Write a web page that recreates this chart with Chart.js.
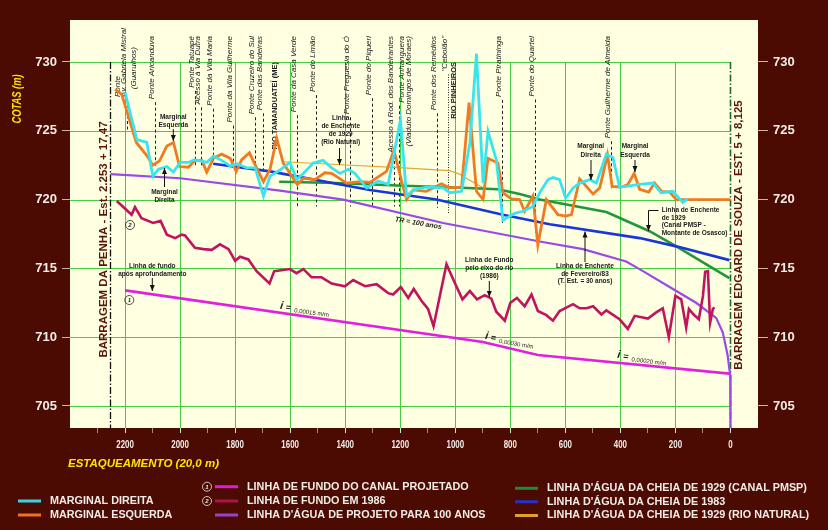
<!DOCTYPE html>
<html lang="pt-BR">
<head>
<meta charset="utf-8">
<title>Perfil do Rio Tietê</title>
<script src="https://cdn.jsdelivr.net/npm/chart.js@4.4.1/dist/chart.umd.min.js"></script>
<style>
  body { margin: 0; background: #4b0b02; }
  canvas { display: block; }
</style>
</head>
<body>
<canvas id="perfil" width="828" height="530"></canvas>
<script>
const estacasMD = [2200, 2157, 2121, 2099, 2079, 2048, 2024, 2000, 1970, 1948, 1921, 1903, 1879, 1849, 1818, 1793, 1757, 1727, 1697, 1673, 1637, 1601, 1576, 1552, 1516, 1480, 1449, 1419, 1389, 1365, 1322, 1280, 1244, 1199, 1177, 1153, 1105, 1044, 1020, 977, 947, 923, 899, 881, 851, 827, 784, 754, 718, 693, 663, 645, 621, 599, 572, 548, 512, 487, 451, 427, 403, 367, 330, 282, 252, 209, 173, 155];
const cotasMD = [727.8, 724.35, 724.15, 721.7, 722.2, 722.4, 722.0, 722.7, 722.7, 722.9, 722.8, 722.7, 723.15, 722.85, 722.45, 722.6, 722.3, 722.3, 720.25, 721.7, 722.15, 722.7, 721.45, 721.9, 722.65, 722.85, 722.3, 721.9, 722.2, 721.9, 720.85, 721.35, 721.1, 725.8, 720.25, 720.7, 720.9, 720.85, 720.5, 720.6, 724.1, 730.6, 721.2, 724.95, 722.9, 718.5, 719.0, 719.15, 719.5, 720.5, 721.45, 721.6, 721.45, 720.1, 720.85, 721.2, 721.45, 721.2, 723.3, 723.05, 720.9, 721.0, 721.1, 721.2, 720.5, 720.6, 719.8, 720.05];

const estacasME = [2236, 2212, 2159, 2121, 2099, 2075, 2048, 2024, 2002, 1970, 1945, 1921, 1903, 1879, 1849, 1818, 1796, 1776, 1748, 1724, 1697, 1673, 1649, 1625, 1574, 1552, 1510, 1474, 1449, 1395, 1347, 1310, 1250, 1223, 1190, 1177, 1153, 1105, 1050, 1020, 977, 950, 923, 899, 881, 845, 827, 796, 766, 748, 718, 700, 669, 627, 599, 578, 548, 499, 475, 447, 430, 397, 373, 350, 330, 297, 276, 250, 221, 197, 0];
const cotasME = [728.0, 727.65, 724.15, 723.2, 722.5, 722.8, 723.9, 724.15, 722.4, 722.35, 722.85, 722.85, 722.0, 723.0, 723.3, 723.0, 722.05, 722.9, 723.4, 722.4, 721.3, 722.2, 724.45, 722.65, 721.1, 721.55, 721.45, 721.95, 721.9, 721.2, 721.3, 721.25, 722.05, 723.6, 720.95, 720.0, 720.7, 720.6, 721.15, 720.85, 720.9, 727.05, 720.6, 720.0, 723.0, 722.65, 720.5, 720.05, 720.0, 719.15, 720.25, 716.7, 720.0, 718.9, 718.8, 718.9, 721.5, 720.4, 720.85, 723.25, 720.95, 720.9, 721.1, 721.9, 720.75, 720.55, 721.2, 720.6, 720.55, 720.0, 720.0];

const estacasFundoProj = [2200, 900, 700, 4];
const cotasFundoProj = [713.4, 709.65, 708.7, 707.35];

const estacasFundo86 = [2230, 2176, 2164, 2140, 2098, 2071, 2048, 2018, 1994, 1982, 1946, 1915, 1885, 1855, 1824, 1800, 1782, 1752, 1722, 1675, 1658, 1601, 1577, 1552, 1522, 1486, 1449, 1401, 1371, 1328, 1286, 1244, 1226, 1198, 1171, 1151, 1123, 1099, 1079, 1032, 1002, 974, 947, 921, 893, 869, 851, 820, 800, 776, 748, 723, 700, 669, 645, 621, 602, 572, 548, 523, 499, 469, 451, 403, 373, 348, 300, 270, 246, 224, 200, 179, 161, 151, 134, 115, 100, 92, 82, 74, 64, 58];
const cotasFundo86 = [719.9, 718.9, 719.45, 718.65, 718.3, 718.45, 717.45, 717.2, 717.45, 717.4, 716.5, 716.4, 716.35, 716.75, 716.4, 715.55, 715.85, 715.65, 714.8, 713.9, 714.8, 714.95, 714.65, 714.95, 714.35, 714.35, 713.9, 713.7, 714.15, 713.7, 713.85, 713.2, 713.1, 713.65, 712.85, 713.5, 712.65, 712.05, 710.8, 715.3, 713.95, 712.75, 713.35, 712.75, 713.05, 712.8, 711.85, 711.2, 712.5, 712.85, 712.25, 713.1, 711.9, 711.6, 711.2, 711.9, 712.1, 712.4, 712.1, 712.1, 712.25, 711.65, 711.95, 711.3, 710.6, 711.55, 711.35, 711.8, 712.1, 710.0, 713.0, 712.75, 710.7, 712.05, 711.65, 711.3, 713.0, 714.75, 714.8, 711.05, 712.05, 712.15];

const estacasTR100 = [2253, 2000, 1637, 1407, 1044, 693, 536, 379, 318, 209, 125, 52, 28, 10, 1, 0];
const cotasTR100 = [721.85, 721.55, 720.65, 720.0, 718.3, 716.95, 716.4, 715.5, 714.8, 713.5, 712.5, 711.4, 710.35, 708.65, 707.2, 703.4];

const estacas1929PMSP = [1640, 1432, 1190, 1020, 845, 766, 693, 451, 294, 197, 4];
const cotas1929PMSP = [721.3, 721.2, 721.0, 720.9, 720.75, 720.4, 720.0, 719.1, 717.7, 716.6, 714.3];

const estacas1983 = [1880, 1673, 1310, 1068, 827, 657, 330, 197, 4];
const cotas1983 = [722.6, 722.05, 720.7, 720.0, 718.9, 718.2, 717.2, 716.6, 715.6];

const estacas1929Nat = [1625, 1432, 1190, 1020, 984, 960, 899, 860];
const cotas1929Nat = [722.75, 722.55, 722.3, 722.1, 721.85, 721.55, 720.85, 720.75];

// pontes e travessias
const pontesNomes = ['Ponte Aricanduva', 'Ponte Tatuapé', 'Acesso à Via Dutra', 'Ponte da Vila Maria', 'Ponte da Vila Guilherme', 'Ponte Cruzeiro do Sul', 'Ponte das Bandeiras', 'Ponte da Casa Verde', 'Ponte do Limão', 'Ponte Freguesia do Ó', 'Ponte do Piqueri', 'Acesso à Rod. dos Bandeirantes', 'Ponte dos Remédios', '"Cebolão"', 'Ponte Piratininga', 'Ponte do Quartel', 'Ponte Guilherme de Almeida'];
const pontesEstacas = [2091, 1944, 1924, 1880, 1806, 1728, 1698, 1576, 1506, 1383, 1302, 1223, 1068, 1028, 831, 710, 435];
const pontesFim = [722.4, 722.4, 722.3, 722.8, 722.3, 722.0, 722.0, 719.5, 719.5, 719.5, 719.5, 719.5, 719.4, 719.0, 718.3, 717.6, 720.7];
const riosNomes = ['RIO TAMANDUATEÍ (ME)', 'RIO PINHEIROS'];
const riosEstacas = [1657, 1005];

const rotulosX = [0, 200, 400, 600, 800, 1000, 1200, 1400, 1600, 1800, 2000, 2200];
const marcasX = [0, 100, 200, 300, 400, 500, 600, 700, 800, 900, 1000, 1100, 1200, 1300, 1400, 1500, 1600, 1700, 1800, 1900, 2000, 2100, 2200, 2300];
const rotulosY = [705, 710, 715, 720, 725, 730];

const FONTE = '"Liberation Sans", Arial, Helvetica, sans-serif';
Chart.defaults.font.family = FONTE;

const pts = (xs, ys) => xs.map((x, i) => ({ x: x, y: ys[i] }));

function serie(rotulo, xs, ys, cor, larg, ordem) {
    return {
        label: rotulo,
        data: pts(xs, ys),
        borderColor: cor,
        backgroundColor: cor,
        borderWidth: larg,
        pointRadius: 0,
        tension: 0,
        fill: false,
        order: ordem
    };
}

function txt(ctx, s, x, y, font, cor, alinh, ang, esc) {
    ctx.save();
    ctx.translate(x, y);
    if (ang) ctx.rotate(ang);
    if (esc) ctx.scale(esc, 1);
    ctx.font = font;
    ctx.fillStyle = cor;
    ctx.textAlign = alinh || 'center';
    ctx.textBaseline = 'middle';
    ctx.fillText(s, 0, 0);
    ctx.restore();
}

function seta(ctx, x, y1, y2) {
    ctx.save();
    ctx.strokeStyle = '#111';
    ctx.fillStyle = '#111';
    ctx.lineWidth = 1;
    ctx.beginPath();
    ctx.moveTo(x, y1);
    ctx.lineTo(x, y2);
    ctx.stroke();
    const d = y2 > y1 ? 1 : -1;
    ctx.beginPath();
    ctx.moveTo(x - 2.5, y2 - 6 * d);
    ctx.lineTo(x + 2.5, y2 - 6 * d);
    ctx.lineTo(x, y2);
    ctx.closePath();
    ctx.fill();
    ctx.restore();
}

function linha(ctx, x1, y1, x2, y2) {
    ctx.beginPath();
    ctx.moveTo(x1, y1);
    ctx.lineTo(x2, y2);
    ctx.stroke();
}

function circulo(ctx, n, x, y, cor) {
    ctx.save();
    ctx.strokeStyle = cor;
    ctx.lineWidth = 0.8;
    ctx.beginPath();
    ctx.arc(x, y, 4.5, 0, Math.PI * 2);
    ctx.stroke();
    ctx.restore();
    txt(ctx, n, x, y + 0.5, 'italic bold 6px ' + FONTE, cor);
}

const desenho = {
    id: 'desenho',
    beforeDraw(chart) {
        const { ctx, chartArea: a } = chart;
        ctx.save();
        ctx.fillStyle = '#4b0b02';
        ctx.fillRect(0, 0, chart.width, chart.height);
        ctx.fillStyle = '#ffffe1';
        ctx.fillRect(a.left, a.top, a.right - a.left, a.bottom - a.top);
        ctx.restore();
    },
    beforeDatasetsDraw(chart) {
        const { ctx, chartArea: a, scales: { x, y } } = chart;
        ctx.save();
        // grade verde
        ctx.strokeStyle = '#44cc44';
        ctx.lineWidth = 1;
        const x0 = x.getPixelForValue(0);
        rotulosY.forEach(v => {
            const py = Math.round(y.getPixelForValue(v)) + 0.5;
            linha(ctx, a.left, py, x0, py);
        });
        const yTopo = y.getPixelForValue(730);
        rotulosX.filter(v => v > 0).forEach(v => {
            const px = Math.round(x.getPixelForValue(v)) + 0.5;
            linha(ctx, px, yTopo, px, a.bottom);
        });

        // barragens
        ctx.setLineDash([7, 2, 1.5, 2]);
        ctx.lineWidth = 1.3;
        ctx.strokeStyle = '#111';
        let px = Math.round(x.getPixelForValue(2253)) + 0.5;
        linha(ctx, px, yTopo, px, a.bottom);
        ctx.strokeStyle = '#1f6a2a';
        ctx.lineWidth = 1.6;
        px = Math.round(x0) + 0.5;
        linha(ctx, px, yTopo, px, a.bottom);

        // pontes
        const fonteP = 'italic 8px ' + FONTE;
        ctx.font = fonteP;
        ctx.lineWidth = 1;
        ctx.strokeStyle = '#222';
        pontesNomes.forEach((nome, i) => {
            const lx = Math.round(x.getPixelForValue(pontesEstacas[i])) + 0.5;
            ctx.font = fonteP;
            const w = ctx.measureText(nome).width;
            txt(ctx, nome, lx - 3.5, 36, fonteP, '#1a1a1a', 'right', -Math.PI / 2);
            ctx.setLineDash(nome.startsWith('"') ? [1, 1.5] : [3, 2.5]);
            linha(ctx, lx, 36 + w + 3, lx, y.getPixelForValue(pontesFim[i]));
        });

        // Ponte Av. Gabriela Mistral (Guarulhos)
        let lx = Math.round(x.getPixelForValue(2194)) + 0.5;
        txt(ctx, 'Ponte', lx - 10, 97, fonteP, '#1a1a1a', 'left', -Math.PI / 2);
        txt(ctx, 'Av. Gabriela Mistral', lx - 3.5, 97, fonteP, '#1a1a1a', 'left', -Math.PI / 2);
        txt(ctx, '(Guarulhos)', lx + 6, 47, fonteP, '#1a1a1a', 'right', -Math.PI / 2);
        ctx.setLineDash([3, 2.5]);
        linha(ctx, lx, 99, lx, y.getPixelForValue(725));

        // Ponte Anhanguera
        lx = Math.round(x.getPixelForValue(1198)) + 0.5;
        txt(ctx, 'Ponte Anhanguera', lx + 0.5, 36, fonteP, '#1a1a1a', 'right', -Math.PI / 2);
        txt(ctx, '(Viaduto Domingos de Moraes)', lx + 7, 36, fonteP, '#1a1a1a', 'right', -Math.PI / 2);
        ctx.font = fonteP;
        const wa = ctx.measureText('Ponte Anhanguera').width;
        linha(ctx, lx - 2, 36 + wa + 3, lx - 2, y.getPixelForValue(719.5));
        ctx.setLineDash([]);

        // rios
        riosNomes.forEach((nome, i) => {
            const rx = x.getPixelForValue(riosEstacas[i]);
            txt(ctx, nome, rx, yTopo, 'bold 7.5px ' + FONTE, '#1a1a1a', 'right', -Math.PI / 2);
        });
        ctx.restore();
    },
    afterDatasetsDraw(chart) {
        const { ctx } = chart;
        const f = 'bold 6.5px ' + FONTE;
        const c = '#1a1a1a';
        const bloco = (linhas, x, y0, dy, al) => linhas.forEach((l, i) => txt(ctx, l, x, y0 + i * dy, f, c, al));

        bloco(['Marginal', 'Esquerda'], 173.3, 117, 8.3);
        seta(ctx, 173.3, 129, 141);
        bloco(['Marginal', 'Direita'], 164.5, 192.5, 8);
        seta(ctx, 164.5, 187, 168);
        bloco(['Linha de fundo', 'após aprofundamento'], 152.3, 266.7, 7.5);
        seta(ctx, 152.3, 278, 291);
        bloco(['Linha', 'de Enchente', 'de 1929', '(Rio Natural)'], 340.7, 118.3, 8);
        seta(ctx, 339.5, 148, 165);
        txt(ctx, 'TR = 100 anos', 418.3, 223.3, 'italic bold 7px ' + FONTE, c, 'center', 0.17);
        bloco(['Linha de Fundo', 'pelo eixo do rio', '(1986)'], 489.3, 260.7, 7.7);
        seta(ctx, 489.3, 281, 297);
        bloco(['Marginal', 'Direita'], 590.7, 146.7, 8.3);
        seta(ctx, 591, 160, 180);
        bloco(['Marginal', 'Esquerda'], 635, 146.7, 8.3);
        seta(ctx, 635, 160, 172);
        bloco(['Linha de Enchente', 'de 1929', '(Canal PMSP -', 'Montante de Osasco)'], 661.7, 210, 7.8, 'left');
        ctx.save();
        ctx.strokeStyle = '#111';
        ctx.lineWidth = 1;
        linha(ctx, 658.5, 210.5, 648.5, 210.5);
        ctx.restore();
        seta(ctx, 648.5, 210.5, 231);
        bloco(['Linha de Enchente', 'de Fevereiro/83', '(T. Est. = 30 anos)'], 585, 266.7, 7.3);
        seta(ctx, 585, 262, 231.5);

        // declividades
        const decl = (x, y, ang, valor) => {
            ctx.save();
            ctx.translate(x, y);
            ctx.rotate(ang);
            txt(ctx, 'i', 0, 0, 'italic bold 11px ' + FONTE, c);
            txt(ctx, '=', 7, 1, 'bold 9px ' + FONTE, c);
            txt(ctx, valor, 13, 3, '6px ' + FONTE, c, 'left');
            ctx.restore();
        };
        decl(281.7, 306, 0.13, '0,00015 m/m');
        decl(486.7, 336, 0.17, '0,00030 m/m');
        decl(619, 355, 0.12, '0,00020 m/m');

        circulo(ctx, '2', 130, 225, '#222');
        circulo(ctx, '1', 129.3, 300, '#222');

        // barragens (textos)
        txt(ctx, 'BARRAGEM DA PENHA - Est. 2.253 + 17,47', 104, 239.5, 'bold 11.5px ' + FONTE, '#5a1608', 'center', -Math.PI / 2);
        txt(ctx, 'BARRAGEM EDGARD DE SOUZA - EST. 5 + 8,125', 739, 235, 'bold 11.5px ' + FONTE, '#5a1608', 'center', -Math.PI / 2);
    },
    afterDraw(chart) {
        const { ctx, scales: { x } } = chart;
        rotulosX.forEach(v => {
            txt(ctx, String(v), x.getPixelForValue(v), 444.5, 'bold 11px ' + FONTE, '#f4eee8', 'center', 0, 0.72);
        });
        txt(ctx, 'ESTAQUEAMENTO (20,0 m)', 68, 464, 'italic bold 11.5px ' + FONTE, '#ffe400', 'left');
        txt(ctx, 'COTAS (m)', 18, 99, 'italic bold 12px ' + FONTE, '#ffe400', 'center', -Math.PI / 2, 0.78);

        // legenda
        const fl = 'bold 10.8px ' + FONTE;
        const cl = '#f2ece6';
        const item = (cor, x1, x2, tx, yy, rot) => {
            ctx.save();
            ctx.strokeStyle = cor;
            ctx.lineWidth = 3;
            linha(ctx, x1, yy, x2, yy);
            ctx.restore();
            txt(ctx, rot, tx, yy, fl, cl, 'left');
        };
        item('#33d6e6', 18, 41, 50, 501, 'MARGINAL DIREITA');
        item('#ee7220', 18, 41, 50, 515, 'MARGINAL ESQUERDA');
        item('#d81ed0', 215, 238, 247, 486.7, 'LINHA DE FUNDO DO CANAL PROJETADO');
        item('#b0104c', 215, 238, 247, 501, 'LINHA DE FUNDO EM 1986');
        item('#9444cc', 215, 238, 247, 515, "LINHA D'ÁGUA DE PROJETO PARA 100 ANOS");
        item('#22883a', 515, 538, 547, 488.3, "LINHA D'ÁGUA DA CHEIA DE 1929 (CANAL PMSP)");
        item('#2432c8', 515, 538, 547, 501.7, "LINHA D'ÁGUA DA CHEIA DE 1983");
        item('#e0a028', 515, 538, 547, 515.5, "LINHA D'ÁGUA DA CHEIA DE 1929 (RIO NATURAL)");
        circulo(ctx, '1', 207, 486.7, '#f2ece6');
        circulo(ctx, '2', 207, 501, '#f2ece6');
    }
};

const eixoY = (pos, larg, tam) => ({
    type: 'linear',
    position: pos,
    min: 703.4,
    max: 733.05,
    afterFit: s => { s.width = larg; },
    afterBuildTicks: s => { s.ticks = rotulosY.map(v => ({ value: v })); },
    border: { display: false },
    grid: { drawOnChartArea: false, drawTicks: true, tickLength: tam, tickColor: '#cfb2aa' },
    ticks: { color: '#f4eee8', font: { size: 13, weight: 'bold' }, padding: 5 }
});

new Chart(document.getElementById('perfil'), {
    type: 'line',
    data: {
        datasets: [
            serie('Marginal Direita', estacasMD, cotasMD, '#3ae4ee', 2.8, 1),
            serie('Marginal Esquerda', estacasME, cotasME, '#f07a22', 2.8, 2),
            serie('Linha de fundo em 1986', estacasFundo86, cotasFundo86, '#c0145c', 2.6, 3),
            serie('Linha de fundo do canal projetado', estacasFundoProj, cotasFundoProj, '#e020dc', 2.6, 4),
            serie("Linha d'água de projeto para 100 anos", estacasTR100, cotasTR100, '#9a48e6', 2.2, 5),
            serie("Linha d'água da cheia de 1983", estacas1983, cotas1983, '#1a36d6', 2.6, 6),
            serie("Linha d'água da cheia de 1929 (Canal PMSP)", estacas1929PMSP, cotas1929PMSP, '#21963a', 2.6, 7),
            serie("Linha d'água da cheia de 1929 (Rio Natural)", estacas1929Nat, cotas1929Nat, '#e0a830', 1.2, 8)
        ]
    },
    options: {
        responsive: false,
        animation: false,
        devicePixelRatio: 1,
        layout: { padding: { top: 20, left: 0, right: 0, bottom: 0 } },
        plugins: { legend: { display: false }, tooltip: { enabled: false } },
        scales: {
            x: {
                type: 'linear',
                reverse: true,
                min: -100,
                max: 2400,
                afterFit: s => { s.height = 102; },
                afterBuildTicks: s => { s.ticks = marcasX.map(v => ({ value: v })); },
                border: { display: false },
                grid: {
                    drawOnChartArea: false,
                    drawTicks: true,
                    tickLength: 5,
                    tickColor: c => (c.tick && c.tick.value % 200 === 0) ? '#cfe8c8' : '#a88a82'
                },
                ticks: { display: false }
            },
            y: eixoY('left', 70, 8),
            y2: eixoY('right', 70, 10)
        }
    },
    plugins: [desenho]
});
</script>
</body>
</html>
